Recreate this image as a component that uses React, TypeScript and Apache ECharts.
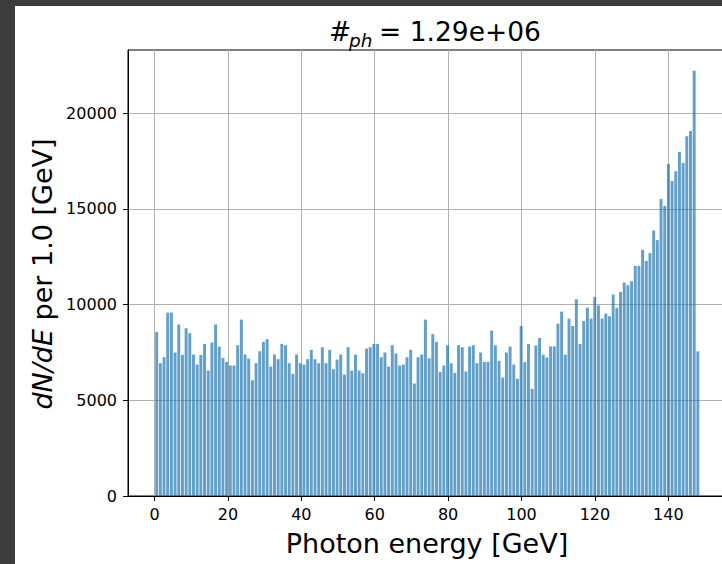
import React, { useEffect, useRef } from 'react';
import * as echarts from 'echarts';

// Histogram counts per bin (148 bins)
const counts: number[] = [
  8573, 6938, 7251, 9582, 9582, 7494, 8956, 7373, 8765, 8504,
  7390, 6868, 7373, 7947, 6555, 8017, 8956, 7808, 7216, 7007,
  6816, 6816, 7877, 9217, 7390, 7181, 6050, 6938, 7564, 8051,
  8190, 6764, 7390, 7146, 7947, 7877, 6938, 6381, 7390, 6938,
  6868, 7146, 7634, 7146, 6938, 7773, 6938, 7634, 6625, 7129,
  7390, 6346, 7773, 6555, 7390, 6555, 6416, 7703, 7773, 7947,
  7947, 7251, 7494, 6764, 7877, 7442, 6816, 6868, 7251, 7634,
  5876, 7251, 7390, 9217, 7199, 8451, 8051, 6485, 6816, 7877,
  6938, 6433, 7877, 7773, 6503, 7808, 7877, 6938, 7494, 7007,
  7007, 8643, 7877, 7059, 6189, 7494, 7808, 6868, 6120, 8886,
  6993, 7937, 5595, 7867, 8252, 7378, 7238, 7815, 7815, 9004,
  9633, 7378, 9266, 8881, 10280, 7937, 9144, 9843, 9266, 10402,
  9948, 9267, 9529, 9389, 10524, 9826, 10663, 11152, 11012, 11222,
  12024, 12024, 12862, 12286, 12687, 13874, 13368, 15514, 15148, 17346,
  16457, 16962, 17975, 17399, 18795, 19074, 22215, 7557,
];
const binStart = 0.08;
const binWidth = 1.0032;
const relWidth = 0.8;

const xTicks: number[] = [0, 20, 40, 60, 80, 100, 120, 140];
const yTicks: number[] = [0, 5000, 10000, 15000, 20000];

const xMin = -7.23;
const xMax = 155.86;
const yMax = 23300;

const titleHash = '#';
const titleSub = 'ph';
const titleRest = '= 1.29e+06';
const xLabel = 'Photon energy [GeV]';
const yLabelItalic = 'dN/dE';
const yLabelRest = ' per 1.0 [GeV]';

const FONT = 'DejaVu Sans';

export default function App() {
  const ref = useRef<HTMLDivElement>(null);

  useEffect(() => {
    if (!ref.current) return;
    const chart = echarts.init(ref.current, null, { renderer: 'svg' });
    const data = counts.map((v, i) => [binStart + i * binWidth, v]);

    const gridLine = { show: true, lineStyle: { color: '#b0b0b0', width: 1 } };

    chart.setOption({
      animation: false,
      backgroundColor: 'transparent',
      grid: {
        left: 128,
        top: 50,
        width: 598.5,
        height: 446,
        show: true,
        borderColor: '#000',
        borderWidth: 1,
        backgroundColor: 'transparent',
        containLabel: false,
      },
      xAxis: [
        {
          type: 'value',
          min: xMin,
          max: xMax,
          z: 3,
          axisLine: { show: true, onZero: false, lineStyle: { color: '#000', width: 1 } },
          axisTick: { show: true, customValues: xTicks, length: 5, lineStyle: { color: '#000', width: 1 } },
          axisLabel: {
            customValues: xTicks,
            fontSize: 16,
            fontFamily: FONT,
            color: '#000',
            margin: 10,
            formatter: (v: number) => String(v),
          },
          splitLine: { show: false },
        },
        {
          type: 'value',
          min: xMin,
          max: xMax,
          position: 'bottom',
          z: 0,
          axisLine: { show: false },
          axisTick: { show: false, customValues: xTicks },
          axisLabel: { show: false, customValues: xTicks },
          splitLine: gridLine,
        },
      ],
      yAxis: [
        {
          type: 'value',
          min: 0,
          max: yMax,
          interval: 5000,
          z: 3,
          axisLine: { show: true, onZero: false, lineStyle: { color: '#000', width: 1 } },
          axisTick: { show: true, customValues: yTicks, length: 5, lineStyle: { color: '#000', width: 1 } },
          axisLabel: {
            customValues: yTicks,
            fontSize: 16,
            fontFamily: FONT,
            color: '#000',
            margin: 11,
            formatter: (v: number) => String(v),
          },
          splitLine: { show: false },
        },
        {
          type: 'value',
          min: 0,
          max: yMax,
          interval: 5000,
          position: 'left',
          z: 0,
          axisLine: { show: false },
          axisTick: { show: false, customValues: yTicks },
          axisLabel: { show: false, customValues: yTicks },
          splitLine: gridLine,
        },
      ],
      series: [
        {
          type: 'custom',
          clip: true,
          z: 2,
          xAxisIndex: 0,
          yAxisIndex: 0,
          data,
          encode: { x: 0, y: 1 },
          renderItem: (params: any, api: any) => {
            const x0 = api.value(0);
            const v = api.value(1);
            const pa = api.coord([x0 + binWidth * (1 - relWidth) / 2, v]);
            const pb = api.coord([x0 + binWidth * (1 + relWidth) / 2, 0]);
            return {
              type: 'rect',
              shape: { x: pa[0], y: pa[1], width: pb[0] - pa[0], height: pb[1] - pa[1] },
              style: { fill: 'rgba(31,119,180,0.7)' },
            };
          },
        },
      ],
      graphic: [
        {
          type: 'text',
          x: 329,
          y: 31,
          style: { text: titleHash, fontSize: 26.5, fontFamily: FONT, fill: '#000', align: 'left', verticalAlign: 'middle' },
        },
        {
          type: 'text',
          x: 349,
          y: 40,
          style: { text: titleSub, fontSize: 18.5, fontStyle: 'italic', fontFamily: FONT, fill: '#000', align: 'left', verticalAlign: 'middle' },
        },
        {
          type: 'text',
          x: 379,
          y: 31,
          style: { text: titleRest, fontSize: 26.5, fontFamily: FONT, fill: '#000', align: 'left', verticalAlign: 'middle' },
        },
        {
          type: 'text',
          x: 427,
          y: 543,
          style: { text: xLabel, fontSize: 27, fontFamily: FONT, fill: '#000', align: 'center', verticalAlign: 'middle' },
        },
        {
          type: 'text',
          x: 42,
          y: 274,
          rotation: Math.PI / 2,
          style: {
            text: '{i|' + yLabelItalic + '}' + yLabelRest,
            fontSize: 27,
            fontFamily: FONT,
            fill: '#000',
            align: 'center',
            verticalAlign: 'middle',
            rich: {
              i: { fontSize: 27, fontFamily: FONT, fontStyle: 'italic', fill: '#000' },
            },
          },
        },
      ],
    });

    return () => {
      chart.dispose();
    };
  }, []);

  return (
    <div style={{ position: 'fixed', left: 0, top: 0, width: 722, height: 564, background: '#3c3c3c', overflow: 'hidden' }}>
      <div style={{ position: 'absolute', left: 15, top: 6, right: 0, bottom: 0, background: '#ffffff' }} />
      <div ref={ref} style={{ position: 'absolute', left: 0, top: 0, width: 760, height: 564 }} />
    </div>
  );
}
